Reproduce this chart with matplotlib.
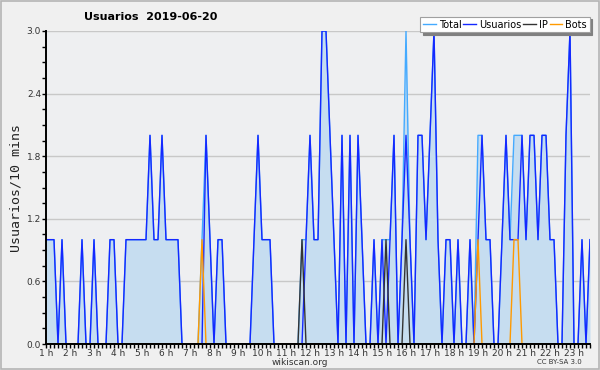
import matplotlib
matplotlib.use('Agg')
import matplotlib.pyplot as plt
from matplotlib.patches import Rectangle
from matplotlib.ticker import MultipleLocator
import numpy as np

# one value every 10 minutes, starting at 1 h
usuarios = [1, 1, 1, 0, 1, 0, 0, 0, 0, 1,
            0, 0, 1, 0, 0, 0, 1, 1, 0, 0,
            1, 1, 1, 1, 1, 1, 2, 1, 1, 2,
            1, 1, 1, 1, 0, 0, 0, 0, 0, 0,
            2, 1, 0, 1, 1, 0, 0, 0, 0, 0,
            0, 0, 1, 2, 1, 1, 1, 0, 0, 0,
            0, 0, 0, 0, 0, 1, 2, 1, 1, 3,
            3, 2, 1, 0, 2, 0, 2, 0, 2, 1,
            0, 0, 1, 0, 1, 0, 1, 2, 0, 1,
            2, 1, 0, 2, 2, 1, 2, 3, 1, 0,
            1, 1, 0, 1, 0, 0, 1, 0, 1, 2,
            1, 1, 0, 0, 1, 2, 1, 1, 1, 2,
            1, 2, 2, 1, 2, 2, 1, 1, 0, 0,
            2, 3, 0, 0, 1, 0, 1]

# IP and bots are mostly zero, only a few slots differ
ip_slots = [64, 85, 90]
bot_slots = [39, 108, 117, 118]

hour_labels = ['%d h' % h for h in range(1, 24)]
y_labels = ['0.0', '0.6', '1.2', '1.8', '2.4', '3.0']

n = len(usuarios)
hours = 1 + np.arange(n) / 6.0
ip = np.zeros(n)
ip[ip_slots] = 1
bots = np.zeros(n)
bots[bot_slots] = 1
usu = np.array(usuarios, dtype=float)
total = usu + ip + bots

fig = plt.figure(figsize=(6, 3.7), dpi=100, facecolor='#f0f0f0')
ax = fig.add_axes([46 / 600, 26 / 370, 544 / 600, 313 / 370])
ax.set_facecolor('#eeeff1')

# grey frame round the whole picture
fig.patches.append(Rectangle((0.001, 0.002), 0.997, 0.995, transform=fig.transFigure,
                             fill=False, edgecolor='#b4b4b4', linewidth=1.2))

ax.fill_between(hours, total, 0, color='#c6ddf0', linewidth=0)
ax.plot(hours, total, color='#44aaff', linewidth=1.0, label='Total')
ax.plot(hours, usu, color='#1428ff', linewidth=1.0, label='Usuarios')
ax.plot(hours, ip, color='#333333', linewidth=1.0, label='IP')
ax.plot(hours, bots, color='#ff9a00', linewidth=1.0, label='Bots')

ax.set_xlim(hours[0], hours[-1])
ax.set_ylim(0, 3.0)

ax.set_yticks([0, 0.6, 1.2, 1.8, 2.4, 3.0])
ax.set_yticklabels(y_labels)
ax.yaxis.set_minor_locator(MultipleLocator(0.15))
ax.set_xticks(range(1, 24))
ax.set_xticklabels(hour_labels)
ax.xaxis.set_minor_locator(MultipleLocator(1 / 6.0))

ax.tick_params(axis='both', which='both', direction='out', length=3, width=1,
               color='black', labelsize=6.5, labelcolor='#333333', pad=0.5)

ax.grid(axis='y', color='#c8c8c8', linewidth=1)
ax.set_axisbelow(True)

for side in ['top', 'right']:
    ax.spines[side].set_visible(False)
for side in ['left', 'bottom']:
    ax.spines[side].set_linewidth(1.4)

ax.set_ylabel('Usuarios/10 mins', family='DejaVu Sans Mono', fontsize=9.5,
              color='#222222', labelpad=3)

fig.text(151 / 600, 1 - 17 / 370, 'Usuarios  2019-06-20', fontsize=8,
         fontweight='bold', ha='center', va='center')

leg = fig.legend(loc='center', bbox_to_anchor=(505 / 600, 1 - 24.5 / 370), ncol=4,
                 fontsize=7, frameon=True, fancybox=False, handlelength=1.3,
                 handletextpad=0.3, columnspacing=0.2, borderpad=0.3,
                 shadow={'color': '#808080', 'alpha': 1})
leg.get_frame().set_edgecolor('#a0a0a0')
leg.get_frame().set_linewidth(0.8)

fig.text(0.5, 1 - 362.5 / 370, 'wikiscan.org', fontsize=6.5, color='#333333',
         ha='center', va='center')
fig.text(582 / 600, 1 - 362.5 / 370, 'CC BY-SA 3.0', fontsize=5, color='#333333',
         ha='right', va='center')

fig.savefig('out.png', dpi=100, facecolor=fig.get_facecolor())
